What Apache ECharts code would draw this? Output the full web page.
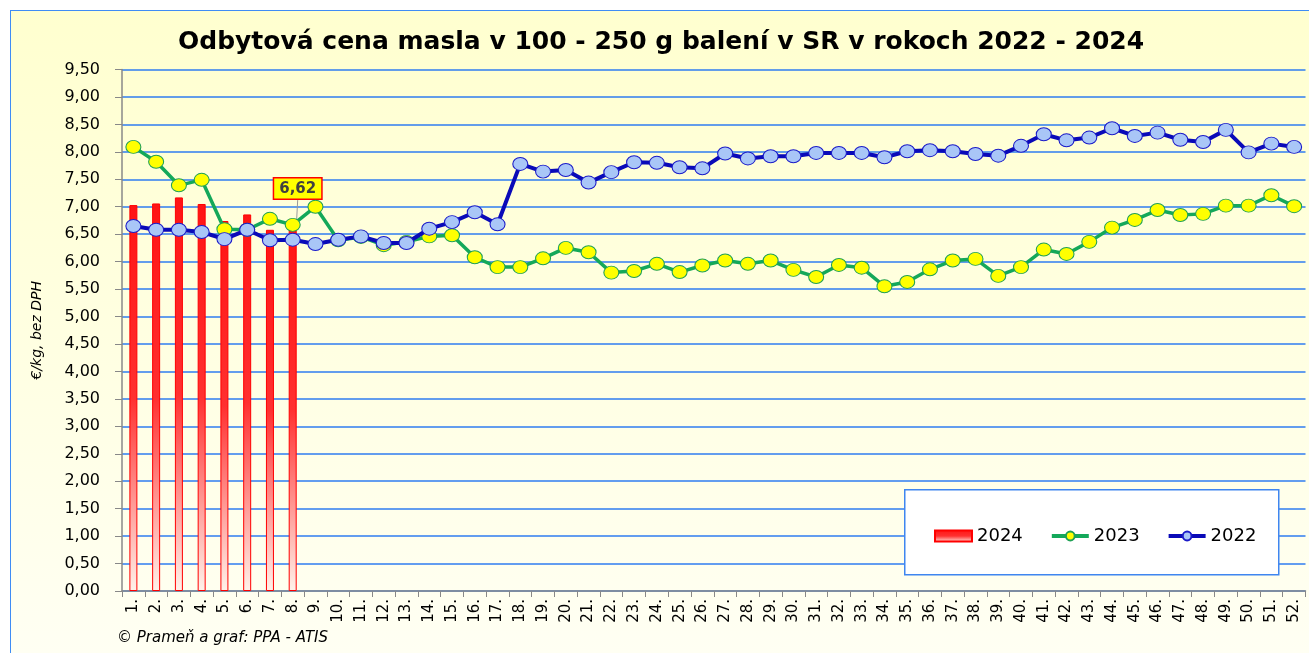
<!DOCTYPE html>
<html>
<head>
<meta charset="utf-8">
<script src="https://cdn.jsdelivr.net/npm/echarts@6/dist/echarts.min.js"></script>
<style>
  html, body { margin: 0; padding: 0; background: #fff; }
  .frame {
    position: absolute; left: 10px; top: 10px; width: 1320px; height: 660px;
    border: 1.5px solid #3f8cf5;
    background: linear-gradient(#ffffcf, #fffff4);
  }
  #chart { position: absolute; left: 0; top: 0; width: 1309px; height: 653px; }
</style>
</head>
<body>
<div class="frame"></div>
<div id="chart"></div>
<script>
const weeks = Array.from({ length: 52 }, (_, i) => (i + 1) + '.')

const prices2024 = [7.03, 7.06, 7.17, 7.05, 6.74, 6.86, 6.58, 6.62]

const prices2023 = [
  8.09, 7.82, 7.39, 7.49, 6.59, 6.58, 6.78, 6.67, 7.00, 6.39,
  6.45, 6.30, 6.36, 6.46, 6.48, 6.08, 5.90, 5.90, 6.06, 6.25,
  6.17, 5.80, 5.83, 5.96, 5.81, 5.93, 6.02, 5.96, 6.02, 5.85,
  5.72, 5.94, 5.89, 5.55, 5.63, 5.86, 6.02, 6.05, 5.74, 5.90,
  6.22, 6.14, 6.36, 6.62, 6.76, 6.94, 6.85, 6.87, 7.02, 7.02,
  7.21, 7.01,
]

const prices2022 = [
  6.65, 6.58, 6.58, 6.54, 6.41, 6.58, 6.39, 6.40, 6.32, 6.40,
  6.46, 6.34, 6.34, 6.60, 6.72, 6.90, 6.68, 7.78, 7.64, 7.67,
  7.44, 7.63, 7.81, 7.80, 7.72, 7.70, 7.97, 7.88, 7.92, 7.92,
  7.98, 7.98, 7.98, 7.90, 8.01, 8.03, 8.01, 7.96, 7.93, 8.11,
  8.32, 8.21, 8.26, 8.43, 8.29, 8.35, 8.22, 8.18, 8.40, 7.99,
  8.15, 8.09,
]

const labelledWeek = 7 // last 2024 week gets the callout

const FONT = 'DejaVu Sans, Verdana, sans-serif'
const fmt = v => v.toFixed(2).replace('.', ',')

const chart = echarts.init(document.getElementById('chart'))

chart.setOption({
  backgroundColor: 'transparent',
  animation: false,
  title: {
    text: 'Odbytová cena masla v 100 - 250 g balení v SR v rokoch 2022 - 2024',
    left: 173,
    top: 25,
    textStyle: { fontFamily: FONT, fontSize: 25, fontWeight: 'bold', color: '#000' },
  },
  grid: { left: 122, right: 3.5, top: 69.5, bottom: 62 },
  legend: {
    left: 929,
    top: 522,
    z: 20,
    itemGap: 27,
    itemWidth: 37,
    itemHeight: 11,
    textStyle: { fontFamily: FONT, fontSize: 18, color: '#000' },
    data: [
      { name: '2024', icon: 'rect' },
      { name: '2023', lineStyle: { width: 4 } },
      { name: '2022', lineStyle: { width: 4 } },
    ],
  },
  xAxis: {
    type: 'category',
    data: weeks,
    boundaryGap: true,
    axisLine: { lineStyle: { color: '#888', width: 1.5 } },
    axisTick: { show: true, length: 6, lineStyle: { color: '#888' } },
    axisLabel: {
      rotate: 90,
      interval: 0,
      margin: 8,
      fontFamily: FONT,
      fontSize: 15,
      color: '#000',
    },
  },
  yAxis: {
    type: 'value',
    min: 0,
    max: 9.5,
    interval: 0.5,
    name: '€/kg, bez DPH',
    nameLocation: 'middle',
    nameGap: 78,
    nameTextStyle: { fontFamily: FONT, fontSize: 14, fontStyle: 'italic', color: '#000' },
    axisLine: { show: true, lineStyle: { color: '#888', width: 1.5 } },
    axisTick: { show: true, length: 7, lineStyle: { color: '#888' } },
    axisLabel: {
      margin: 22,
      formatter: fmt,
      fontFamily: FONT,
      fontSize: 16,
      color: '#000',
    },
    splitLine: { lineStyle: { color: '#2f7cf0', width: 1.5 } },
  },
  graphic: [
    {
      type: 'rect',
      left: 904,
      top: 489,
      shape: { width: 374, height: 85 },
      style: { fill: '#fff', stroke: '#3f86f0', lineWidth: 1.5 },
      z: 10,
    },
    {
      type: 'text',
      left: 117,
      top: 631,
      style: {
        text: '© Prameň a graf: PPA - ATIS',
        font: 'italic 15px ' + FONT,
        fill: '#000',
      },
    },
  ],
  series: [
    {
      name: '2024',
      type: 'bar',
      barWidth: 8,
      z: 2,
      itemStyle: {
        color: new echarts.graphic.LinearGradient(0, 0, 0, 1, [
          { offset: 0, color: '#ff1414' },
          { offset: 0.5, color: '#ff3030' },
          { offset: 1, color: '#fff2ea' },
        ]),
        borderColor: '#ff0000',
        borderWidth: 1,
      },
      labelLine: { show: true, lineStyle: { color: '#999', width: 1 } },
      labelLayout: { dy: -26, dx: 5 },
      data: prices2024.map((v, i) => i === labelledWeek
        ? {
            value: v,
            label: {
              show: true,
              position: 'top',
              distance: 3,
              formatter: p => fmt(p.value),
              backgroundColor: '#ffff00',
              borderColor: '#ff0000',
              borderWidth: 1.5,
              padding: [3, 5, 2, 5],
              fontFamily: FONT,
              fontSize: 15,
              fontWeight: 'bold',
              color: '#404040',
            },
          }
        : v),
    },
    {
      name: '2023',
      type: 'line',
      z: 3,
      symbol: 'circle',
      symbolSize: [15, 13],
      lineStyle: { color: '#14a85a', width: 3.5 },
      itemStyle: { color: '#ffff00', borderColor: '#1fa055', borderWidth: 1 },
      data: prices2023,
    },
    {
      name: '2022',
      type: 'line',
      z: 4,
      symbol: 'circle',
      symbolSize: [15, 13],
      lineStyle: { color: '#0a0ab8', width: 4 },
      itemStyle: { color: '#a9c6f7', borderColor: '#1a1ac8', borderWidth: 1 },
      data: prices2022,
    },
  ],
})
</script>
</body>
</html>
